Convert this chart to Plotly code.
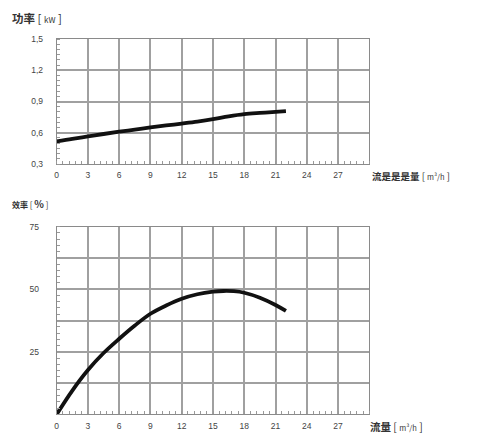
import plotly.graph_objects as go

# Power curve (kW) vs flow (m3/h)
flow_p = [0, 1.5, 3, 4.5, 6, 7.5, 9, 10.5, 12, 13.5, 15, 16.5, 18, 19.5, 21, 22]
power = [0.517, 0.542, 0.565, 0.588, 0.61, 0.63, 0.651, 0.67, 0.688, 0.707, 0.73, 0.757, 0.778, 0.79, 0.80, 0.807]

# Efficiency curve (%) vs flow (m3/h)
flow_e = [0, 1.5, 3, 4.5, 6, 7.5, 9, 10.5, 12, 13.5, 15, 16, 17, 18, 19.5, 21, 22]
eff = [0, 9.5, 17.7, 24.5, 30.2, 35.5, 40.2, 43.5, 46.2, 48.0, 49.0, 49.3, 49.2, 48.6, 46.6, 43.7, 41.3]

x_ticks = [0, 3, 6, 9, 12, 15, 18, 21, 24, 27, 30]
x_labels = ["0", "3", "6", "9", "12", "15", "18", "21", "24", "27", ""]
p_ticks = [0.3, 0.6, 0.9, 1.2, 1.5]
p_labels = ["0,3", "0,6", "0,9", "1,2", "1,5"]
e_ticks = [0, 12.5, 25, 37.5, 50, 62.5, 75]
e_labels = ["", "", "25", "", "50", "", "75"]

fig = go.Figure()
fig.add_trace(go.Scatter(x=flow_p, y=power, mode="lines", line=dict(color="#111", width=3.8, shape="spline"),
                         xaxis="x", yaxis="y", showlegend=False, hoverinfo="skip"))
fig.add_trace(go.Scatter(x=flow_e, y=eff, mode="lines", line=dict(color="#111", width=3.8, shape="spline"),
                         xaxis="x2", yaxis="y2", showlegend=False, hoverinfo="skip"))

# page body has an 8px margin; figure is sized to fit the window
OFF = 8
W, H = 485 - OFF, 443 - OFF
fx = lambda p: (p - OFF) / W
fy = lambda p: 1 - (p - OFF) / H

x0, x1 = fx(56.7), fx(369.3)
grid = "#a0a0a0"
axcol = "#8a8a8a"
tickfont = dict(family="Liberation Sans, Arial", size=8.5, color="#444")

def xax(domain_anchor):
    return dict(domain=[x0, x1], range=[0, 30], tickvals=x_ticks, ticktext=x_labels,
                showgrid=True, gridcolor=grid, gridwidth=1.5, zeroline=False,
                showline=True, linecolor=axcol, linewidth=1, mirror=True, automargin=False,
                ticks="", tickfont=tickfont, ticklabelstandoff=3, anchor=domain_anchor,
                minor=dict(dtick=0.6, ticks="inside", ticklen=3, tickcolor="#999", showgrid=False),
                fixedrange=True)

fig.update_layout(
    width=W, height=H, margin=dict(l=0, r=0, t=0, b=0),
    paper_bgcolor="white", plot_bgcolor="white",
    xaxis=xax("y"),
    yaxis=dict(domain=[fy(164), fy(39)], range=[0.3, 1.5], tickvals=p_ticks, ticktext=p_labels,
               showgrid=True, gridcolor=grid, gridwidth=1.5, zeroline=False,
               showline=True, linecolor=axcol, linewidth=1, mirror=True, automargin=False,
               ticks="", tickfont=tickfont, ticklabelstandoff=11, anchor="x",
               minor=dict(dtick=0.05, ticks="inside", ticklen=3, tickcolor="#999", showgrid=False)),
    xaxis2=xax("y2"),
    yaxis2=dict(domain=[fy(414.3), fy(226.7)], range=[0, 75], tickvals=e_ticks, ticktext=e_labels,
                showgrid=True, gridcolor=grid, gridwidth=1.5, zeroline=False,
                showline=True, linecolor=axcol, linewidth=1, mirror=True, automargin=False,
                ticks="", tickfont=tickfont, ticklabelstandoff=15, anchor="x2",
                minor=dict(dtick=2.5, ticks="inside", ticklen=3, tickcolor="#999", showgrid=False)),
)

fam = "Noto Sans CJK SC, Liberation Sans"
ann = [
    (10, 18, 11.5, "<b>功率</b> [ <span style='font-size:8px'>kW</span> ]"),
    (370, 176, 9.5, "<b>流是是是量</b> [ <span style='font-size:7.5px'>m³/h</span> ]"),
    (10, 203, 8, "<b>效率</b> [ <b><span style='font-size:10px'>%</span></b> ]"),
    (368, 426, 10.5, "<b>流量</b> [ <span style='font-size:7.5px'>m³/h</span> ]"),
]
for px, py, fs, txt in ann:
    fig.add_annotation(x=fx(px), y=fy(py), xref="paper", yref="paper", text=txt,
                       showarrow=False, xanchor="left", yanchor="middle",
                       font=dict(family=fam, size=fs, color="#333"))

fig.write_html("out.html")
